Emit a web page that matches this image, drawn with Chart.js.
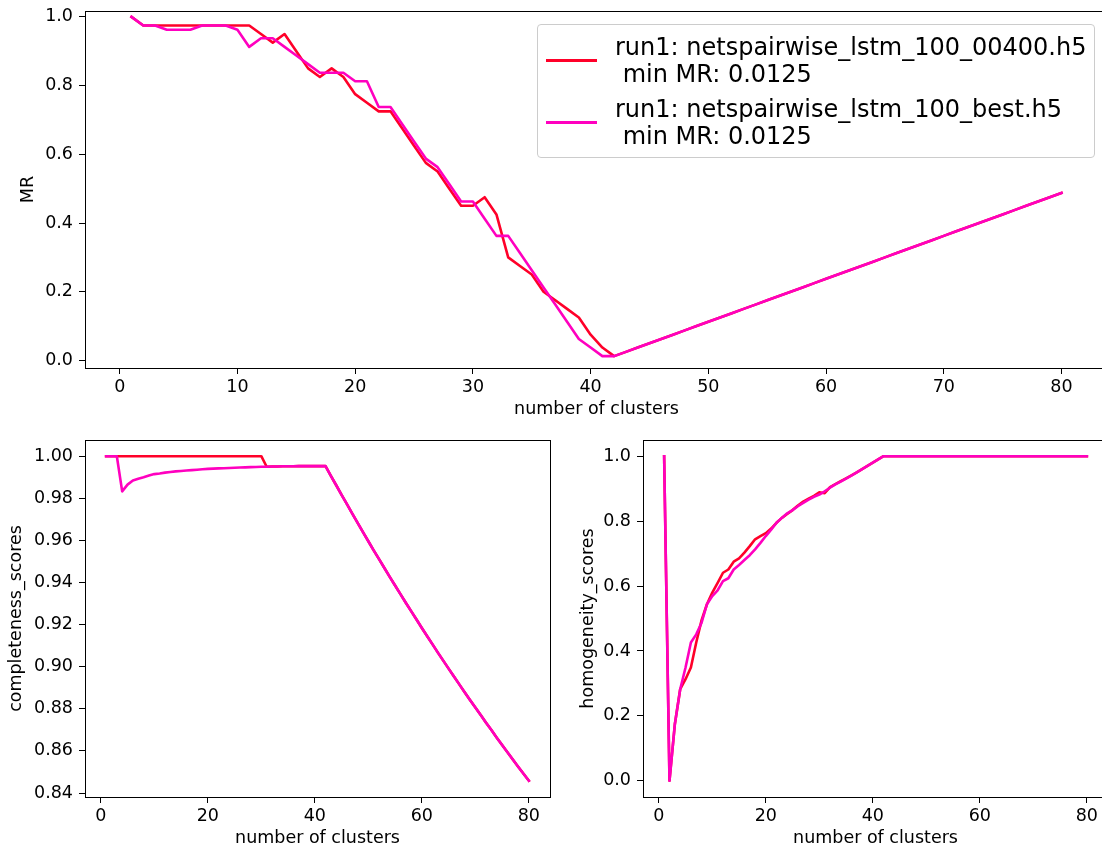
<!DOCTYPE html>
<html>
<head>
<meta charset="utf-8">
<script src="https://cdn.jsdelivr.net/npm/chart.js@4.4.1/dist/chart.umd.min.js"></script>
<style>
  html, body { margin: 0; padding: 0; background: #fff; overflow: hidden; width: 1102px; height: 849px; }
  .panel { position: absolute; }
  #legend {
    position: absolute; left: 537px; top: 24px; width: 558px; height: 134px;
    box-sizing: border-box; border: 1px solid #cccccc; border-radius: 4px;
    background: rgba(255,255,255,0.8);
    font-family: 'DejaVu Sans', sans-serif; font-size: 24px; line-height: 27px; color: #000;
  }
  #legend .swatch { position: absolute; left: 8px; width: 51px; height: 3px; }
  #legend .txt { position: absolute; left: 77px; white-space: pre; }
</style>
</head>
<body>
<div class="panel" style="left:0;top:0;width:1120px;height:420px"><canvas id="chartMR"></canvas></div>
<div class="panel" style="left:0;top:420px;width:560px;height:429px"><canvas id="chartComp"></canvas></div>
<div class="panel" style="left:560px;top:420px;width:560px;height:429px"><canvas id="chartHom"></canvas></div>
<div id="legend"></div>

<script>
// number of clusters on the x axis: 1..80
const nClusters = Array.from({ length: 80 }, (_, i) => i + 1);

const runNames = ['run1: netspairwise_lstm_100_00400.h5', 'run1: netspairwise_lstm_100_best.h5'];
const RED     = '#ff0029';
const MAGENTA = '#ff00bf';

// ---- MR (misclassification rate), clusters 1..42 ----
const mr00400Head = [
  1.0, 0.975, 0.975, 0.975, 0.975, 0.975, 0.975, 0.975, 0.975, 0.975,
  0.975, 0.95, 0.925, 0.95, 0.9, 0.85, 0.825, 0.85, 0.825, 0.775,
  0.75, 0.725, 0.725, 0.675, 0.625, 0.575, 0.55, 0.5, 0.45, 0.45,
  0.475, 0.425, 0.3, 0.275, 0.25, 0.2, 0.175, 0.15, 0.125, 0.075,
  0.0375, 0.0125
];
const mrBestHead = [
  1.0, 0.975, 0.975, 0.9625, 0.9625, 0.9625, 0.975, 0.975, 0.975, 0.9625,
  0.9125, 0.9375, 0.9375, 0.9125, 0.8875, 0.8625, 0.8375, 0.8375, 0.8375, 0.8125,
  0.8125, 0.7375, 0.7375, 0.6875, 0.6375, 0.5875, 0.5625, 0.5125, 0.4625, 0.4625,
  0.4125, 0.3625, 0.3625, 0.3125, 0.2625, 0.2125, 0.1625, 0.1125, 0.0625, 0.0375,
  0.0125, 0.0125
];
// both runs coincide from 43 clusters on
const mrTail = [
  0.025, 0.0375, 0.05, 0.0625, 0.075, 0.0875, 0.1, 0.1125, 0.125, 0.1375,
  0.15, 0.1625, 0.175, 0.1875, 0.2, 0.2125, 0.225, 0.2375, 0.25, 0.2625,
  0.275, 0.2875, 0.3, 0.3125, 0.325, 0.3375, 0.35, 0.3625, 0.375, 0.3875,
  0.4, 0.4125, 0.425, 0.4375, 0.45, 0.4625, 0.475, 0.4875
];

// ---- completeness scores ----
const comp00400Head = [
  1.0, 1.0, 1.0, 1.0, 1.0, 1.0, 1.0, 1.0, 1.0, 1.0,
  1.0, 1.0, 1.0, 1.0, 1.0, 1.0, 1.0, 1.0, 1.0, 1.0,
  1.0, 1.0, 1.0, 1.0, 1.0, 1.0, 1.0, 1.0, 1.0, 1.0,
  0.995, 0.9951, 0.9951, 0.9952, 0.9952, 0.9952, 0.9953, 0.9953, 0.9953, 0.9953,
  0.9953, 0.9953
];
const compBestHead = [
  1.0, 1.0, 1.0, 0.9833, 0.9865, 0.9885, 0.9893, 0.99, 0.9908, 0.9915,
  0.9918, 0.9922, 0.9925, 0.9928, 0.993, 0.9932, 0.9934, 0.9936, 0.9938, 0.994,
  0.9941, 0.9942, 0.9943, 0.9944, 0.9945, 0.9946, 0.9947, 0.9948, 0.9949, 0.995,
  0.995, 0.9951, 0.9951, 0.9952, 0.9952, 0.9952, 0.9953, 0.9953, 0.9953, 0.9953,
  0.9953, 0.9953
];
const compTail = [
  0.9907, 0.9862, 0.9816, 0.9772, 0.9727, 0.9683, 0.9639, 0.9596, 0.9553, 0.9511,
  0.9469, 0.9427, 0.9386, 0.9345, 0.9304, 0.9264, 0.9224, 0.9184, 0.9145, 0.9106,
  0.9067, 0.9029, 0.8991, 0.8953, 0.8916, 0.8879, 0.8842, 0.8806, 0.877, 0.8734,
  0.8699, 0.8663, 0.8628, 0.8594, 0.8559, 0.8525, 0.8491, 0.8458
];

// ---- homogeneity scores ----
const hom00400Head = [
  1.0, 0.0, 0.174, 0.282, 0.313, 0.349, 0.426, 0.495, 0.544, 0.58,
  0.61, 0.641, 0.651, 0.675, 0.685, 0.703, 0.723, 0.744, 0.754, 0.763,
  0.777, 0.795, 0.81, 0.822, 0.834, 0.848, 0.86, 0.869, 0.878, 0.889,
  0.886, 0.905, 0.914, 0.923, 0.932, 0.941, 0.95, 0.96, 0.97, 0.98,
  0.99, 1.0
];
const homBestHead = [
  1.0, 0.0, 0.174, 0.282, 0.349, 0.426, 0.451, 0.487, 0.544, 0.569,
  0.587, 0.615, 0.624, 0.651, 0.665, 0.68, 0.695, 0.713, 0.733, 0.754,
  0.774, 0.795, 0.81, 0.824, 0.834, 0.846, 0.856, 0.866, 0.875, 0.882,
  0.892, 0.903, 0.913, 0.922, 0.931, 0.94, 0.95, 0.96, 0.97, 0.98,
  0.99, 1.0
];
const homTail = [
  1.0, 1.0, 1.0, 1.0, 1.0, 1.0, 1.0, 1.0, 1.0, 1.0,
  1.0, 1.0, 1.0, 1.0, 1.0, 1.0, 1.0, 1.0, 1.0, 1.0,
  1.0, 1.0, 1.0, 1.0, 1.0, 1.0, 1.0, 1.0, 1.0, 1.0,
  1.0, 1.0, 1.0, 1.0, 1.0, 1.0, 1.0, 1.0
];

const mr00400   = [...mr00400Head, ...mrTail];
const mrBest    = [...mrBestHead, ...mrTail];
const comp00400 = [...comp00400Head, ...compTail];
const compBest  = [...compBestHead, ...compTail];
const hom00400  = [...hom00400Head, ...homTail];
const homBest   = [...homBestHead, ...homTail];

const mrTicksY   = [0.0, 0.2, 0.4, 0.6, 0.8, 1.0];
const compTicksY = [0.84, 0.86, 0.88, 0.90, 0.92, 0.94, 0.96, 0.98, 1.00];
const homTicksY  = [0.0, 0.2, 0.4, 0.6, 0.8, 1.0];
const mrTicksX   = [0, 10, 20, 30, 40, 50, 60, 70, 80];
const subTicksX  = [0, 20, 40, 60, 80];

// ════════════════════════════════════════
const FONT = { family: 'DejaVu Sans', size: 17.5, lineHeight: 1.2 };

const pairs = ys => ys.map((y, i) => ({ x: nClusters[i], y }));

// matplotlib-style box around the plot area
const framePlugin = {
  id: 'frame',
  afterDatasetsDraw(chart) {
    const { ctx, chartArea: a } = chart;
    ctx.save();
    ctx.strokeStyle = '#000';
    ctx.lineWidth = 1;
    ctx.strokeRect(a.left + 0.5, a.top + 0.5, a.right - a.left, a.bottom - a.top);
    ctx.restore();
  }
};

function noPad(ax) {
  ax.paddingLeft = 0; ax.paddingRight = 0; ax.paddingTop = 0; ax.paddingBottom = 0;
}

function makeChart(id, o) {
  return new Chart(document.getElementById(id), {
    type: 'line',
    data: {
      datasets: [
        { label: runNames[0], data: pairs(o.red), borderColor: RED, order: 1 },
        { label: runNames[1], data: pairs(o.mag), borderColor: MAGENTA, order: 0 }
      ]
    },
    options: {
      animation: false,
      responsive: true,
      maintainAspectRatio: false,
      layout: { padding: { left: 0, top: o.padTop, right: o.padRight, bottom: 0 } },
      elements: {
        point: { radius: 0 },
        line: { borderWidth: 2.6, tension: 0, fill: false, borderJoinStyle: 'round', borderCapStyle: 'square' }
      },
      plugins: { legend: { display: false }, tooltip: { enabled: false } },
      scales: {
        x: {
          type: 'linear', min: -2.95, max: 83.95,
          afterBuildTicks: ax => { ax.ticks = o.xTicks.map(value => ({ value })); },
          afterFit: ax => { ax.height = 52; noPad(ax); },
          grid: { drawOnChartArea: false, tickLength: 6, tickColor: '#000', tickWidth: 1 },
          border: { display: false },
          ticks: { color: '#000', font: FONT, padding: 3, maxRotation: 0, autoSkip: false, callback: v => String(v) },
          title: { display: true, text: 'number of clusters', color: '#000', font: FONT, padding: { top: 0, bottom: 0 } }
        },
        y: {
          type: 'linear', min: o.yMin, max: o.yMax,
          afterBuildTicks: ax => { ax.ticks = o.yTicks.map(value => ({ value })); },
          afterFit: ax => { ax.width = o.yWidth; noPad(ax); },
          grid: { drawOnChartArea: false, tickLength: 6, tickColor: '#000', tickWidth: 1 },
          border: { display: false },
          ticks: { color: '#000', font: FONT, padding: 6, autoSkip: false, callback: v => v.toFixed(o.digits) },
          title: { display: true, text: o.yTitle, color: '#000', font: FONT, padding: { top: o.titlePad, bottom: 0 } }
        }
      }
    },
    plugins: [framePlugin]
  });
}

makeChart('chartMR', {
  red: mr00400, mag: mrBest,
  yMin: -0.022, yMax: 1.017, yTicks: mrTicksY, digits: 1, yTitle: 'MR', titlePad: 18,
  xTicks: mrTicksX, yWidth: 85, padTop: 11, padRight: 12
});

makeChart('chartComp', {
  red: comp00400, mag: compBest,
  yMin: 0.8381, yMax: 1.0077, yTicks: compTicksY, digits: 2, yTitle: 'completeness_scores', titlePad: 6,
  xTicks: subTicksX, yWidth: 85, padTop: 20, padRight: 10
});

makeChart('chartHom', {
  red: hom00400, mag: homBest,
  yMin: -0.05, yMax: 1.05, yTicks: homTicksY, digits: 1, yTitle: 'homogeneity_scores', titlePad: 18,
  xTicks: subTicksX, yWidth: 83, padTop: 20, padRight: 12
});

// legend for the MR panel, two-line labels with the run's minimum MR
const legend = document.getElementById('legend');
[[runNames[0], mr00400, RED], [runNames[1], mrBest, MAGENTA]].forEach(([name, vals, color], i) => {
  const top = 9 + i * 62;
  const sw = document.createElement('div');
  sw.className = 'swatch';
  sw.style.top = (top + 26 - 1.5) + 'px';
  sw.style.background = color;
  legend.appendChild(sw);
  const txt = document.createElement('div');
  txt.className = 'txt';
  txt.style.top = top + 'px';
  txt.textContent = name + '\n min MR: ' + Math.min(...vals);
  legend.appendChild(txt);
});
</script>
</body>
</html>
